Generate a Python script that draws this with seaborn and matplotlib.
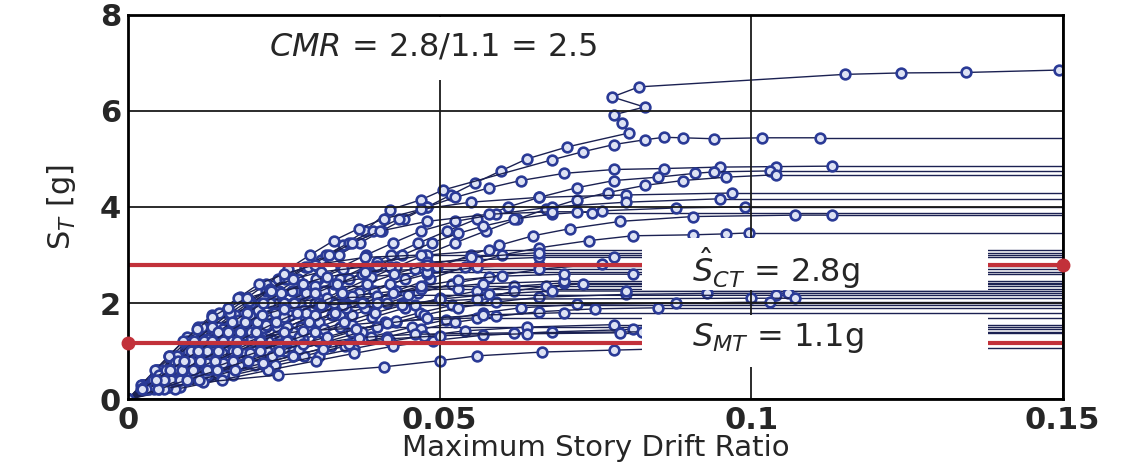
import matplotlib
matplotlib.use('Agg')
import pandas as pd
import numpy as np
from matplotlib import pyplot as plt
from matplotlib.patches import Rectangle
import seaborn as sns

# IDA curves: spectral acceleration S_T [g] vs maximum story drift ratio, one list per record
record_sa = [
    [0.25, 0.5, 0.75, 1.0, 1.25, 1.5, 1.75, 2.0, 2.25, 2.5, 2.75, 3.0, 3.25, 3.5, 3.75, 4.0, 4.25, 4.5, 4.75, 5.0, 5.25, 5.54, 5.75, 5.92, 6.08, 6.29, 6.5, 6.76, 6.79, 6.8, 6.85],
    [0.3, 0.6, 0.9, 1.29, 1.5, 1.75, 2.13, 2.5, 2.9, 3.2, 3.5, 3.94, 4.15, 4.35, 4.98, 5.15, 5.3, 5.4, 5.45, 5.44, 5.42, 5.44, 5.44],
    [0.25, 0.5, 0.75, 1.0, 1.25, 1.5, 1.75, 2.0, 2.25, 2.5, 2.75, 3.0, 3.25, 3.5, 3.75, 4.0, 4.2, 4.4, 4.55, 4.7, 4.78, 4.8, 4.83, 4.84, 4.85],
    [0.25, 0.5, 0.75, 1.0, 1.25, 1.5, 1.75, 2.0, 2.25, 2.5, 2.75, 3.0, 3.25, 3.5, 3.75, 4.0, 4.2, 4.4, 4.55, 4.62, 4.7, 4.73, 4.75],
    [0.25, 0.5, 0.75, 1.0, 1.25, 1.5, 1.75, 2.0, 2.25, 2.5, 2.75, 3.0, 3.25, 3.5, 3.75, 3.95, 4.15, 4.3, 4.45, 4.55, 4.62, 4.67],
    [0.3, 0.6, 0.9, 1.2, 1.5, 1.8, 2.1, 2.4, 2.7, 3.0, 3.3, 3.55, 3.75, 3.95, 4.1, 4.2, 4.25, 4.29],
    [0.25, 0.5, 0.75, 1.0, 1.25, 1.5, 1.75, 2.0, 2.25, 2.5, 2.75, 3.0, 3.25, 3.5, 3.7, 3.85, 4.0, 4.1, 4.17],
    [0.25, 0.5, 0.75, 1.0, 1.25, 1.5, 1.75, 2.0, 2.25, 2.5, 2.75, 3.0, 3.25, 3.45, 3.6, 3.75, 3.85, 3.92, 3.98, 4.0],
    [0.25, 0.5, 0.75, 1.0, 1.25, 1.5, 1.75, 2.0, 2.25, 2.5, 2.75, 3.0, 3.2, 3.4, 3.55, 3.7, 3.8, 3.83, 3.83],
    [0.25, 0.5, 0.75, 1.0, 1.25, 1.5, 1.75, 2.0, 2.25, 2.5, 2.75, 3.0, 3.25, 3.5, 3.7, 3.85, 3.9, 3.9, 3.88],
    [0.25, 0.5, 0.75, 1.0, 1.25, 1.5, 1.75, 2.0, 2.25, 2.5, 2.75, 3.0, 3.15, 3.3, 3.4, 3.42, 3.44, 3.46],
    [0.25, 0.5, 0.75, 1.0, 1.25, 1.5, 1.75, 2.0, 2.25, 2.5, 2.7, 2.85, 3.0, 3.1],
    [0.3, 0.6, 0.9, 1.2, 1.5, 1.8, 2.1, 2.4, 2.6, 2.8, 2.95, 3.0],
    [0.25, 0.5, 0.75, 1.0, 1.25, 1.5, 1.75, 2.0, 2.2, 2.4, 2.6, 2.75, 2.8],
    [0.3, 0.6, 0.9, 1.2, 1.5, 1.8, 2.05, 2.3, 2.5, 2.65, 2.78],
    [0.25, 0.5, 0.75, 1.0, 1.25, 1.5, 1.75, 2.0, 2.2, 2.4, 2.55, 2.7, 2.82],
    [0.25, 0.5, 0.75, 1.0, 1.25, 1.5, 1.75, 2.0, 2.2, 2.4, 2.55, 2.65],
    [0.25, 0.5, 0.75, 1.0, 1.25, 1.5, 1.7, 1.9, 2.1, 2.25, 2.35, 2.42],
    [0.3, 0.6, 0.9, 1.2, 1.45, 1.7, 1.9, 2.1, 2.25, 2.35],
    [0.25, 0.5, 0.75, 1.0, 1.2, 1.4, 1.6, 1.8, 1.95, 2.1, 2.25, 2.35, 2.4],
    [0.25, 0.5, 0.75, 1.0, 1.25, 1.45, 1.65, 1.85, 2.0, 2.15, 2.25, 2.3],
    [0.25, 0.5, 0.75, 1.0, 1.2, 1.4, 1.6, 1.75, 1.9, 2.02, 2.12, 2.18, 2.2, 2.2],
    [0.25, 0.5, 0.75, 1.0, 1.25, 1.45, 1.65, 1.85, 2.0, 2.1, 2.16, 2.16],
    [0.25, 0.5, 0.75, 1.0, 1.2, 1.4, 1.6, 1.75, 1.9, 2.0, 2.08, 2.1, 2.1],
    [0.25, 0.5, 0.7, 0.9, 1.1, 1.3, 1.5, 1.65, 1.8, 1.9, 1.97, 2.0, 2.02],
    [0.25, 0.5, 0.75, 1.0, 1.2, 1.4, 1.55, 1.7, 1.8, 1.9, 1.96],
    [0.25, 0.5, 0.7, 0.9, 1.1, 1.3, 1.45, 1.6, 1.72, 1.82, 1.88, 1.9],
    [0.25, 0.5, 0.75, 0.95, 1.15, 1.3, 1.45, 1.55, 1.63, 1.69],
    [0.25, 0.5, 0.7, 0.9, 1.05, 1.2, 1.32, 1.42, 1.5, 1.55],
    [0.25, 0.5, 0.75, 0.95, 1.15, 1.3, 1.42, 1.5],
    [0.2, 0.4, 0.6, 0.8, 0.95, 1.1, 1.22, 1.33, 1.4, 1.45],
    [0.25, 0.5, 0.7, 0.9, 1.05, 1.18, 1.28, 1.35, 1.38, 1.4],
    [0.2, 0.35, 0.5, 0.67, 0.8, 0.9, 0.98, 1.02, 1.06],
    [0.25, 0.5, 0.75, 1.0, 1.25, 1.5, 1.75, 1.95, 2.15, 2.3, 2.4, 2.46],
    [0.2, 0.4, 0.6, 0.8, 1.0, 1.2, 1.4, 1.6, 1.8, 2.0, 2.2, 2.4, 2.6, 2.75, 2.85, 2.9, 2.95, 2.95],
    [0.2, 0.4, 0.6, 0.8, 1.0, 1.2, 1.4, 1.6, 1.8, 2.0, 2.2, 2.35, 2.48, 2.56, 2.6, 2.6],
    [0.2, 0.4, 0.6, 0.8, 1.0, 1.2, 1.4, 1.6, 1.8, 1.95, 2.08, 2.18, 2.25, 2.25],
    [0.2, 0.4, 0.6, 0.75, 0.9, 1.05, 1.15, 1.25, 1.32, 1.36, 1.38],
    [0.2, 0.4, 0.6, 0.8, 1.0, 1.2, 1.4, 1.6, 1.8, 2.0, 2.2, 2.4, 2.55, 2.65, 2.7],
    [0.2, 0.4, 0.6, 0.8, 1.0, 1.2, 1.4, 1.6, 1.8, 2.0, 2.2, 2.4, 2.6, 2.8, 2.95, 3.05],
    [0.2, 0.4, 0.6, 0.8, 1.0, 1.15, 1.3, 1.45, 1.58, 1.68, 1.75, 1.8],
    [0.2, 0.4, 0.6, 0.8, 1.0, 1.2, 1.4, 1.6, 1.75, 1.88, 1.96, 2.0],
]
record_drift = [
    [0.0025, 0.005, 0.0075, 0.010, 0.0127, 0.0155, 0.0183, 0.0212, 0.0242, 0.0273, 0.0305, 0.0338, 0.0372, 0.0407, 0.0443, 0.048, 0.0518, 0.0557, 0.0598, 0.064, 0.0705, 0.0804, 0.0793, 0.078, 0.0829, 0.0777, 0.082, 0.115, 0.124, 0.1345, 0.1494],
    [0.0022, 0.0044, 0.0066, 0.0095, 0.0112, 0.0135, 0.018, 0.024, 0.031, 0.0345, 0.038, 0.042, 0.047, 0.0505, 0.068, 0.073, 0.078, 0.083, 0.086, 0.089, 0.094, 0.1018, 0.111],
    [0.0023, 0.0046, 0.0069, 0.0092, 0.0116, 0.014, 0.0166, 0.0193, 0.0222, 0.0252, 0.0284, 0.0318, 0.0354, 0.0393, 0.0435, 0.048, 0.0525, 0.058, 0.063, 0.07, 0.078, 0.086, 0.095, 0.104, 0.113],
    [0.0031, 0.0062, 0.0094, 0.0126, 0.0159, 0.0193, 0.0228, 0.0264, 0.0301, 0.034, 0.038, 0.0422, 0.0466, 0.0512, 0.056, 0.061, 0.066, 0.072, 0.078, 0.085, 0.091, 0.094, 0.103],
    [0.0036, 0.0071, 0.0107, 0.0144, 0.0182, 0.0221, 0.026, 0.03, 0.0342, 0.0385, 0.043, 0.0476, 0.0524, 0.0574, 0.0625, 0.067, 0.072, 0.077, 0.083, 0.089, 0.096, 0.104],
    [0.0025, 0.005, 0.0076, 0.0102, 0.013, 0.0159, 0.019, 0.0222, 0.0256, 0.0292, 0.033, 0.037, 0.041, 0.047, 0.055, 0.066, 0.08, 0.097],
    [0.0028, 0.0056, 0.0084, 0.0112, 0.0141, 0.0171, 0.0202, 0.0234, 0.0268, 0.0304, 0.0342, 0.0382, 0.0425, 0.047, 0.0525, 0.059, 0.068, 0.08, 0.095],
    [0.0034, 0.0067, 0.01, 0.0134, 0.0168, 0.0203, 0.0239, 0.0276, 0.0314, 0.0354, 0.0396, 0.044, 0.0487, 0.053, 0.057, 0.062, 0.068, 0.076, 0.088, 0.099],
    [0.0042, 0.0084, 0.0126, 0.0168, 0.0211, 0.0255, 0.03, 0.0346, 0.0394, 0.0444, 0.0496, 0.055, 0.0595, 0.065, 0.071, 0.079, 0.0906, 0.107, 0.113],
    [0.0024, 0.0048, 0.0072, 0.0096, 0.012, 0.0145, 0.0171, 0.0198, 0.0226, 0.0256, 0.0288, 0.0323, 0.036, 0.0405, 0.048, 0.058, 0.068, 0.072, 0.0745],
    [0.0045, 0.0091, 0.0137, 0.0183, 0.023, 0.0278, 0.0327, 0.0378, 0.043, 0.0484, 0.054, 0.06, 0.066, 0.074, 0.081, 0.0906, 0.096, 0.0997],
    [0.0026, 0.0053, 0.008, 0.0107, 0.0135, 0.0164, 0.0195, 0.0228, 0.0263, 0.0302, 0.0345, 0.040, 0.048, 0.058],
    [0.0023, 0.0046, 0.007, 0.0094, 0.0119, 0.0146, 0.0176, 0.021, 0.025, 0.030, 0.038, 0.047],
    [0.0038, 0.0077, 0.0116, 0.0156, 0.0197, 0.0239, 0.0283, 0.033, 0.037, 0.042, 0.048, 0.056, 0.066],
    [0.0026, 0.0052, 0.0079, 0.0106, 0.0134, 0.0164, 0.0194, 0.0228, 0.0265, 0.031, 0.040],
    [0.005, 0.01, 0.015, 0.0201, 0.0253, 0.0306, 0.036, 0.0416, 0.0465, 0.052, 0.058, 0.066, 0.076],
    [0.0029, 0.0059, 0.0089, 0.0119, 0.015, 0.0182, 0.0215, 0.025, 0.0285, 0.033, 0.039, 0.048],
    [0.0055, 0.011, 0.0166, 0.0223, 0.0281, 0.034, 0.0392, 0.0445, 0.050, 0.056, 0.062, 0.070],
    [0.0021, 0.0043, 0.0065, 0.0088, 0.011, 0.0134, 0.016, 0.019, 0.023, 0.030],
    [0.0062, 0.0125, 0.0188, 0.0252, 0.0305, 0.0358, 0.0412, 0.0468, 0.052, 0.057, 0.062, 0.067, 0.073],
    [0.0036, 0.0072, 0.0108, 0.0145, 0.0183, 0.0214, 0.0247, 0.0282, 0.0315, 0.036, 0.043, 0.053],
    [0.0066, 0.0132, 0.0198, 0.0265, 0.032, 0.0375, 0.043, 0.0475, 0.053, 0.059, 0.066, 0.08, 0.093, 0.106],
    [0.0025, 0.005, 0.0076, 0.0102, 0.0129, 0.0152, 0.0178, 0.0208, 0.025, 0.032, 0.045, 0.104],
    [0.0046, 0.0092, 0.0138, 0.0185, 0.0224, 0.0264, 0.0306, 0.034, 0.038, 0.044, 0.056, 0.1, 0.107],
    [0.0072, 0.0145, 0.0204, 0.0264, 0.0326, 0.039, 0.0456, 0.051, 0.057, 0.063, 0.072, 0.088, 0.103],
    [0.0034, 0.0068, 0.0102, 0.0137, 0.0166, 0.0197, 0.0222, 0.025, 0.0285, 0.035, 0.046],
    [0.0077, 0.0155, 0.0218, 0.0282, 0.0348, 0.0416, 0.047, 0.0525, 0.059, 0.066, 0.075, 0.085],
    [0.005, 0.0101, 0.0153, 0.0196, 0.024, 0.0275, 0.0315, 0.036, 0.043, 0.056],
    [0.0084, 0.0168, 0.0236, 0.0306, 0.0362, 0.042, 0.0475, 0.054, 0.064, 0.078],
    [0.0039, 0.0078, 0.0118, 0.015, 0.0184, 0.0215, 0.028, 0.040],
    [0.0075, 0.015, 0.0225, 0.0302, 0.0362, 0.0425, 0.049, 0.057, 0.068, 0.081],
    [0.0063, 0.0126, 0.0178, 0.0231, 0.0274, 0.0318, 0.037, 0.046, 0.062, 0.0825],
    [0.005, 0.012, 0.024, 0.041, 0.05, 0.056, 0.0665, 0.078, 0.09],
    [0.0042, 0.0084, 0.0126, 0.0168, 0.0211, 0.0255, 0.03, 0.0345, 0.04, 0.047, 0.057, 0.07],
    [0.0025, 0.005, 0.0075, 0.01, 0.0126, 0.0152, 0.0179, 0.0207, 0.0236, 0.0267, 0.03, 0.0336, 0.0375, 0.042, 0.048, 0.056, 0.066, 0.078],
    [0.0034, 0.0069, 0.0104, 0.0139, 0.0175, 0.0212, 0.025, 0.029, 0.0332, 0.0376, 0.0425, 0.047, 0.053, 0.06, 0.07, 0.081],
    [0.0042, 0.0084, 0.0126, 0.0168, 0.0211, 0.0255, 0.03, 0.0347, 0.0397, 0.044, 0.05, 0.058, 0.068, 0.08],
    [0.0057, 0.0114, 0.0172, 0.0217, 0.0264, 0.0312, 0.0355, 0.0415, 0.05, 0.064, 0.079],
    [0.002, 0.004, 0.006, 0.008, 0.0101, 0.0122, 0.0144, 0.0167, 0.0191, 0.0217, 0.0246, 0.028, 0.032, 0.038, 0.046],
    [0.0029, 0.0057, 0.0086, 0.0115, 0.0145, 0.0175, 0.0206, 0.0238, 0.0271, 0.0306, 0.0343, 0.0383, 0.0427, 0.048, 0.055, 0.066],
    [0.0048, 0.0095, 0.0143, 0.0192, 0.0242, 0.028, 0.032, 0.0365, 0.0415, 0.048, 0.057, 0.07],
    [0.0022, 0.0044, 0.0067, 0.0089, 0.0112, 0.0135, 0.016, 0.0188, 0.0215, 0.025, 0.031, 0.04],
]

s_ct = 2.8
s_mt = 1.1
s_mt_line = 1.17   # red line as drawn in the picture
cmr = 2.5
x_ticks = [0, 0.05, 0.1, 0.15]
x_tick_labels = ['0', '0.05', '0.1', '0.15']
y_ticks = [0, 2, 4, 6, 8]

navy = '#2a3a96'
line_c = '#1b2152'
red = '#c2313a'

# long tables for seaborn
rows = []
flat_rows = []
for i, (d, s) in enumerate(zip(record_drift, record_sa)):
    rows.append((i, 0.0, 0.0))
    for x, y in zip(d, s):
        rows.append((i, x, y))
    flat_rows.append((i, d[-1], s[-1]))
    flat_rows.append((i, x_ticks[-1], s[-1]))
ida = pd.DataFrame(rows, columns=['record', 'drift', 'sa'])
flat = pd.DataFrame(flat_rows, columns=['record', 'drift', 'sa'])

sns.set_style('white')
plt.rcParams['font.family'] = ['DejaVu Sans']
plt.rcParams['mathtext.fontset'] = 'dejavusans'

fig = plt.figure(figsize=(11.34, 4.63), dpi=100)
ax = fig.add_axes([0.113, 0.138, 0.824, 0.830])

sns.lineplot(data=flat, x='drift', y='sa', units='record', estimator=None, sort=False,
             color=line_c, lw=1.0, legend=False, ax=ax, zorder=2)
sns.lineplot(data=ida, x='drift', y='sa', units='record', estimator=None, sort=False,
             color=line_c, lw=1.0, marker='o', markersize=7, markerfacecolor='#dde2f4',
             markeredgecolor=navy, markeredgewidth=1.9, legend=False, ax=ax, zorder=2)

# red reference levels
for lev in [s_ct, s_mt_line]:
    ax.plot([0, x_ticks[-1]], [lev, lev], color=red, lw=3, zorder=2.8)
ax.plot([0], [s_mt_line], 'o', color=red, ms=9, clip_on=False, zorder=6)
ax.plot([x_ticks[-1]], [s_ct], 'o', color=red, ms=9, clip_on=False, zorder=6)

# white boxes behind the annotations
for (x0, y0, w, h) in [(0.028, 6.65, 0.062, 1.3), (0.0825, 2.27, 0.0555, 1.08), (0.0825, 0.67, 0.0555, 1.08)]:
    ax.add_patch(Rectangle((x0, y0), w, h, facecolor='white', edgecolor='none', zorder=3))

ax.text(0.049, 7.33, r'$CMR$ = %.1f/%.1f = %.1f' % (s_ct, s_mt, cmr), fontsize=23,
        ha='center', va='center', zorder=4)
ax.text(0.0905, 2.73, r'$\hat{S}_{CT}$ = %.1fg' % s_ct, fontsize=23, ha='left', va='center', zorder=4)
ax.text(0.0905, 1.27, r'$S_{MT}$ = %.1fg' % s_mt, fontsize=23, ha='left', va='center', zorder=4)

ax.set_xlim(0, 0.15)
ax.set_ylim(0, 8)
ax.set_xticks(x_ticks)
ax.set_xticklabels(x_tick_labels)
ax.set_yticks(y_ticks)
ax.set_axisbelow(False)
ax.grid(True, color='#1a1a1a', lw=1.3)
ax.tick_params(length=0, labelsize=22, pad=5)
for lab in ax.get_yticklabels() + ax.get_xticklabels():
    lab.set_fontweight('bold')
for sp in ax.spines.values():
    sp.set_color('black')
    sp.set_linewidth(2)
    sp.set_zorder(5)

ax.set_xlabel('Maximum Story Drift Ratio', fontsize=21)
ax.xaxis.set_label_coords(0.5, -0.09)
ax.set_ylabel(r'S$_T$ [g]', fontsize=22, labelpad=16)

fig.savefig('out.png', dpi=100)
